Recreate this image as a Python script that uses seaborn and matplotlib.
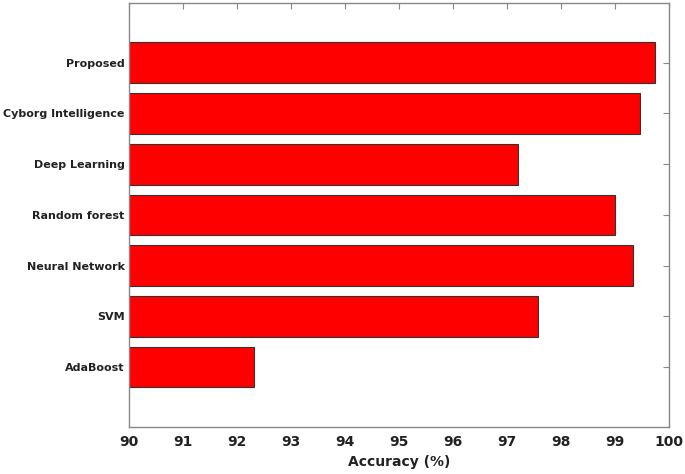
import seaborn as sns
import matplotlib.pyplot as plt
import pandas as pd

methods = ['Proposed', 'Cyborg Intelligence', 'Deep Learning', 'Random forest',
           'Neural Network', 'SVM', 'AdaBoost']
accuracy = [99.74, 99.45, 97.21, 99.0, 99.33, 97.58, 92.31]
x_ticks = [90, 91, 92, 93, 94, 95, 96, 97, 98, 99, 100]

df = pd.DataFrame({'method': methods, 'accuracy': accuracy})

sns.set_style('white')
plt.rcParams['font.family'] = ['DejaVu Sans']

fig = plt.figure(figsize=(6.85, 4.74), dpi=100)
ax = fig.add_axes([0.188, 0.099, 0.789, 0.895])

sns.barplot(data=df, x='accuracy', y='method', orient='h', color='#ff0000',
            saturation=1, width=0.8, edgecolor='#333333', linewidth=0.8, ax=ax)

ax.set_xlim(90, 100)
ax.set_ylim(7.18, -1.18)
ax.set_xticks(x_ticks)
ax.set_xticklabels([str(t) for t in x_ticks], fontsize=10, fontweight='bold', color='#222222')
ax.set_yticks(range(len(methods)))
ax.set_yticklabels(methods, fontsize=8, fontweight='bold', color='#222222')
ax.set_xlabel('Accuracy (%)', fontsize=10, fontweight='bold', color='#222222')
ax.set_ylabel('')

ax.tick_params(direction='in', top=True, right=True, length=4, width=0.8,
               color='#888888')
ax.tick_params(axis='x', pad=6)
ax.tick_params(axis='y', pad=3)
for s in ax.spines.values():
    s.set_color('#888888')
    s.set_linewidth(1.0)

plt.savefig('out.png', dpi=100)
plt.close()
